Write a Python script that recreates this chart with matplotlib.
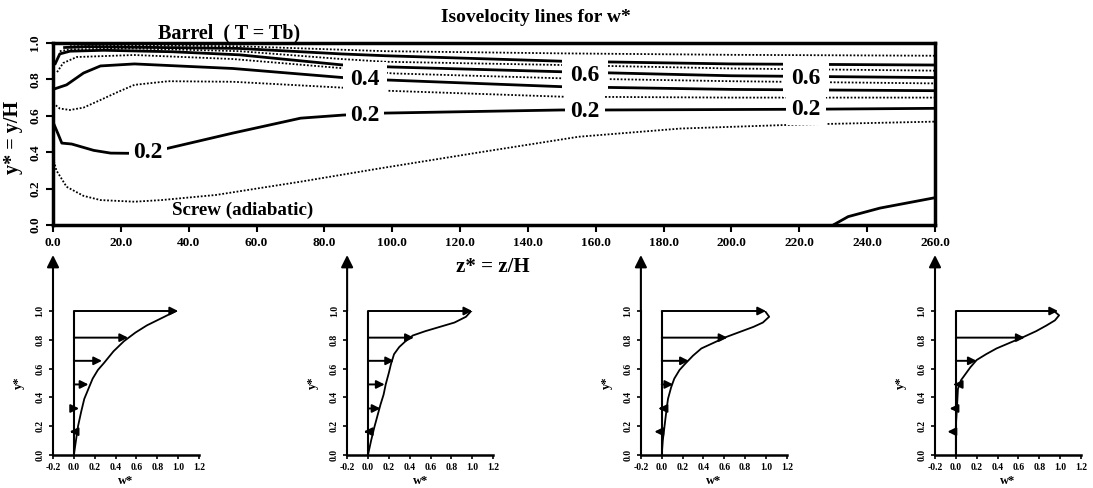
import matplotlib
matplotlib.use("Agg")
from matplotlib import pyplot as plt

plt.rcParams["font.family"] = ["Liberation Serif", "DejaVu Serif"]

Z_END = 260.0

# isovelocity lines for w*, each a polyline in (z*, y*)
W00_Z = [230.0, 234.4, 243.8, 260.0]
W00_Y = [0.0, 0.046, 0.093, 0.15]
W01_Z = [0.0, 1.0, 4.0, 9.0, 14.0, 24.0, 32.0, 48.0, 73.0, 96.0, 126.0, 155.0, 185.0, 220.0, 260.0]
W01_Y = [0.37, 0.30, 0.21, 0.16, 0.137, 0.128, 0.137, 0.165, 0.238, 0.31, 0.40, 0.485, 0.53, 0.552, 0.568]
W02_Z = [0.0, 1.5, 2.6, 5.5, 12.0, 17.0, 22.0, 28.0, 33.5, 53.0, 73.0, 85.5, 98.0, 150.0, 163.0, 222.0, 260.0]
W02_Y = [0.566, 0.50, 0.45, 0.445, 0.41, 0.395, 0.394, 0.395, 0.42, 0.505, 0.587, 0.604, 0.615, 0.632, 0.632, 0.636, 0.641]
W03_Z = [0.0, 2.0, 5.0, 9.0, 14.0, 19.0, 24.0, 34.0, 53.0, 85.0, 98.0, 150.0, 200.0, 260.0]
W03_Y = [0.67, 0.64, 0.632, 0.645, 0.687, 0.73, 0.77, 0.79, 0.787, 0.755, 0.738, 0.705, 0.70, 0.70]
W04_Z = [0.0, 4.0, 9.0, 14.0, 24.0, 53.0, 85.5, 98.0, 150.0, 200.0, 260.0]
W04_Y = [0.745, 0.77, 0.835, 0.874, 0.885, 0.86, 0.81, 0.797, 0.76, 0.745, 0.738]
W05_Z = [1.2, 3.0, 7.0, 24.0, 53.0, 85.0, 100.0, 150.0, 200.0, 260.0]
W05_Y = [0.84, 0.89, 0.923, 0.934, 0.912, 0.862, 0.833, 0.806, 0.79, 0.778]
W06_Z = [0.5, 2.0, 5.0, 15.0, 35.0, 55.0, 85.0, 100.0, 150.0, 200.0, 260.0]
W06_Y = [0.88, 0.94, 0.955, 0.96, 0.952, 0.935, 0.88, 0.868, 0.842, 0.82, 0.81]
W07_Z = [2.0, 5.0, 24.0, 55.0, 85.0, 98.0, 150.0, 200.0, 260.0]
W07_Y = [0.955, 0.965, 0.97, 0.955, 0.912, 0.897, 0.879, 0.86, 0.848]
W08_Z = [3.0, 10.0, 55.0, 85.0, 98.0, 150.0, 200.0, 260.0]
W08_Y = [0.975, 0.98, 0.97, 0.94, 0.93, 0.90, 0.885, 0.879]
W09_Z = [5.0, 55.0, 98.0, 150.0, 200.0, 260.0]
W09_Y = [0.99, 0.982, 0.955, 0.943, 0.935, 0.93]

LEVELS = [0.0, 0.1, 0.2, 0.3, 0.4, 0.5, 0.6, 0.7, 0.8, 0.9]

# inline contour labels
LABEL_TEXT = ["0.2", "0.2", "0.2", "0.2", "0.4", "0.6", "0.6"]
LABEL_Z = [28.0, 92.0, 156.8, 222.0, 92.0, 156.8, 222.0]
LABEL_Y = [0.40, 0.604, 0.623, 0.636, 0.80, 0.822, 0.806]
LABEL_PAD = [3, 3, 4, 4, 5, 6, 6]

# velocity profiles at four stations along the channel
PROFILE_Z = [0.0, 86.7, 173.3, 260.0]
ARROW_Y = [0.162, 0.323, 0.49, 0.654, 0.815, 1.0]
ARROW_W1 = [-0.04, 0.05, 0.14, 0.27, 0.52, 1.0]
ARROW_W2 = [-0.04, 0.12, 0.16, 0.25, 0.44, 1.0]
ARROW_W3 = [-0.07, -0.03, 0.11, 0.26, 0.63, 1.0]
ARROW_W4 = [-0.08, -0.06, -0.02, 0.2, 0.66, 0.98]
CURVE_W1 = [0.0, 0.01, 0.02, 0.04, 0.07, 0.1, 0.14, 0.18, 0.23, 0.29, 0.38, 0.48, 0.59, 0.70, 0.84, 0.98]
CURVE_Y1 = [0.0, 0.05, 0.1, 0.2, 0.3, 0.39, 0.46, 0.53, 0.59, 0.64, 0.72, 0.79, 0.85, 0.90, 0.95, 1.0]
CURVE_W2 = [0.0, 0.03, 0.06, 0.09, 0.12, 0.15, 0.17, 0.2, 0.22, 0.25, 0.30, 0.36, 0.43, 0.55, 0.69, 0.83, 0.94, 0.99]
CURVE_Y2 = [0.0, 0.1, 0.19, 0.27, 0.35, 0.42, 0.49, 0.57, 0.63, 0.70, 0.75, 0.79, 0.83, 0.86, 0.89, 0.92, 0.96, 1.0]
CURVE_W3 = [0.0, 0.01, 0.03, 0.045, 0.06, 0.09, 0.12, 0.17, 0.22, 0.30, 0.38, 0.50, 0.62, 0.75, 0.88, 0.97, 1.03, 0.99]
CURVE_Y3 = [0.0, 0.1, 0.22, 0.31, 0.39, 0.47, 0.53, 0.59, 0.63, 0.69, 0.74, 0.78, 0.82, 0.855, 0.89, 0.92, 0.96, 1.0]
CURVE_W4 = [0.0, 0.0, 0.01, 0.02, 0.05, 0.09, 0.14, 0.2, 0.29, 0.39, 0.52, 0.65, 0.77, 0.87, 0.95, 0.99, 0.94]
CURVE_Y4 = [0.0, 0.2, 0.32, 0.46, 0.52, 0.56, 0.61, 0.66, 0.70, 0.74, 0.78, 0.82, 0.86, 0.90, 0.935, 0.97, 1.0]

W_TICKS = [-0.2, 0.0, 0.2, 0.4, 0.6, 0.8, 1.0, 1.2]
Y_TICKS = [0.0, 0.2, 0.4, 0.6, 0.8, 1.0]
Z_TICKS = list(range(0, 261, 20))


def main():
    lines = [(W00_Z, W00_Y), (W01_Z, W01_Y), (W02_Z, W02_Y), (W03_Z, W03_Y),
             (W04_Z, W04_Y), (W05_Z, W05_Y), (W06_Z, W06_Y), (W07_Z, W07_Y),
             (W08_Z, W08_Y), (W09_Z, W09_Y)]
    arrows = [ARROW_W1, ARROW_W2, ARROW_W3, ARROW_W4]
    curves = [(CURVE_W1, CURVE_Y1), (CURVE_W2, CURVE_Y2),
              (CURVE_W3, CURVE_Y3), (CURVE_W4, CURVE_Y4)]

    fig = plt.figure(figsize=(10.93, 4.88), dpi=100)
    ax = fig.add_axes([53 / 1093, 263 / 488, 882 / 1093, 182 / 488])
    ax.set_xlim(0, Z_END)
    ax.set_ylim(0, 1)

    for level, (zs, ys) in zip(LEVELS, lines):
        if round(level * 10) % 2 == 0:
            ax.plot(zs, ys, color="black", lw=2.0, solid_capstyle="butt")
        else:
            ax.plot(zs, ys, color="black", lw=1.3, ls=(0, (1, 1.0)))

    for t, z, y, p in zip(LABEL_TEXT, LABEL_Z, LABEL_Y, LABEL_PAD):
        ax.text(z, y, t, ha="center", va="center", fontsize=17, fontweight="bold",
                bbox=dict(facecolor="white", edgecolor="none", pad=p), zorder=5)

    for s in ax.spines.values():
        s.set_linewidth(2.5)
    ax.tick_params(direction="out", length=5, width=1.5, top=False, right=False)
    ax.set_xticks(Z_TICKS)
    ax.set_xticklabels(["%.1f" % v for v in Z_TICKS], fontsize=9.5, fontweight="bold")
    ax.set_yticks(Y_TICKS)
    ax.set_yticklabels(["%.1f" % v for v in Y_TICKS], fontsize=9.5, fontweight="bold",
                       rotation=90, va="center")

    ax.text(52, 1.05, "Barrel  ( T = Tb)", ha="center", va="center", fontsize=14.5,
            fontweight="bold", clip_on=False)
    ax.text(56, 0.082, "Screw (adiabatic)", ha="center", va="center", fontsize=13.7,
            fontweight="bold")
    fig.text(536 / 1093, 1 - 18 / 488, "Isovelocity lines for w*", ha="center",
             va="center", fontsize=14, fontweight="bold")
    fig.text(13 / 1093, 1 - 137 / 488, "y* = y/H", rotation=90, ha="center",
             va="center", fontsize=14.5, fontweight="bold")
    fig.text(493 / 1093, 1 - 267 / 488, "z* = z/H", ha="center", va="center",
             fontsize=15, fontweight="bold")

    pos = ax.get_position()
    for z, aw, (cw, cy) in zip(PROFILE_Z, arrows, curves):
        left = pos.x0 + z / Z_END * pos.width
        pax = fig.add_axes([left, 33 / 488, 146 / 1093, 144 / 488])
        pax.set_xlim(-0.2, 1.2)
        pax.set_ylim(0, 1)
        pax.spines["top"].set_visible(False)
        pax.spines["right"].set_visible(False)
        pax.spines["left"].set_linewidth(1.5)
        pax.spines["bottom"].set_linewidth(1.8)

        pax.plot([0, 0], [0, 1], color="black", lw=1.5)
        for w, y in zip(aw, ARROW_Y):
            pax.annotate("", xy=(w, y), xytext=(0, y),
                         arrowprops=dict(arrowstyle="-|>", color="black", lw=1.4,
                                         mutation_scale=12, shrinkA=0, shrinkB=0))
        pax.plot(cw, cy, color="black", lw=1.3)

        pax.tick_params(direction="out", length=3, width=1.2, pad=3)
        pax.set_xticks(W_TICKS)
        pax.set_xticklabels(["%.1f" % v for v in W_TICKS], fontsize=7, fontweight="bold")
        pax.set_yticks(Y_TICKS)
        pax.set_yticklabels(["%.1f" % v for v in Y_TICKS], fontsize=7, fontweight="bold",
                            rotation=90, va="center")
        pax.set_xlabel("w*", fontsize=9, fontweight="bold", labelpad=2)
        pax.set_ylabel("y*", fontsize=9, fontweight="bold", labelpad=8)

        # station arrow pointing up to the z* axis
        pax.annotate("", xy=(z, -0.165), xycoords=ax.transData,
                     xytext=(-0.2, 1.0), textcoords=pax.transData,
                     arrowprops=dict(arrowstyle="-|>", color="black", lw=1.5,
                                     mutation_scale=18, shrinkA=0, shrinkB=0),
                     annotation_clip=False)

    fig.savefig("out.png", dpi=100)


if __name__ == "__main__":
    main()
